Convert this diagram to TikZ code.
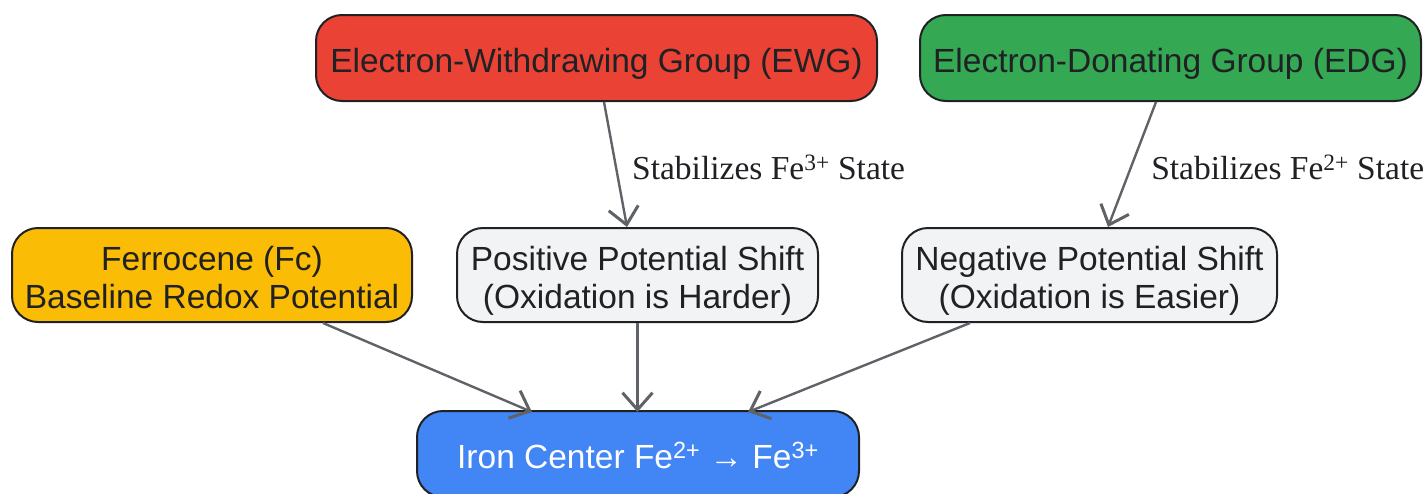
\documentclass[tikz,border=0pt]{standalone}
\usepackage{fontspec}
\setmainfont{Liberation Sans}
\newfontfamily\labelfont{Liberation Serif}
\usetikzlibrary{arrows.meta}

\definecolor{ewgred}{HTML}{EA4335}
\definecolor{edggreen}{HTML}{34A853}
\definecolor{fcyellow}{HTML}{FBBC05}
\definecolor{shiftgray}{HTML}{F1F3F4}
\definecolor{ironblue}{HTML}{4285F4}
\definecolor{inkdark}{HTML}{202124}
\definecolor{linegray}{HTML}{5F6368}

\tikzset{
  box/.style={draw=inkdark, line width=2pt, rounded corners=26pt, align=center,
    text=inkdark, font=\fontsize{33.5}{38}\selectfont, inner sep=0pt,
    text height=35pt, text depth=7pt},
  twoline/.style={text height=73pt, text depth=7pt},
  flow/.style={draw=linegray, line width=2.4pt, -{Straight Barb[length=17pt,width=30pt,line width=3pt]}},
  tag/.style={font=\labelfont\fontsize{33.5}{38}\selectfont, text=inkdark, right, inner sep=0pt}
}

\begin{document}
\begin{tikzpicture}[x=1pt, y=-1pt]
                    \useasboundingbox (0,0) rectangle (1428,493);

                    % Grupos
                    \node [box, fill=ewgred, minimum width=561, minimum height=86] (ewg) at (596.5,58) {Electron-Withdrawing Group (EWG)};
                    \node [box, fill=edggreen, minimum width=501, minimum height=86] (edg) at (1170.5,58) {Electron-Donating Group (EDG)};

                    % Potenciales
                    \node [box, twoline, fill=fcyellow, minimum width=400, minimum height=94] (fc) at (212,275) {Ferrocene (Fc)\\Baseline Redox Potential};
                    \node [box, twoline, fill=shiftgray, minimum width=361, minimum height=94] (pos) at (637.5,275) {Positive Potential Shift\\(Oxidation is Harder)};
                    \node [box, twoline, fill=shiftgray, minimum width=375, minimum height=94] (neg) at (1089.5,275) {Negative Potential Shift\\(Oxidation is Easier)};

                    % Hierro
                    \node [box, fill=ironblue, text=white, minimum width=442, minimum height=86] (iron) at (638,454) {Iron Center Fe\textsuperscript{2+} → Fe\textsuperscript{3+}};

                    % Flechas
                    \draw [flow] ([xshift=7.5]ewg.south) -- ([xshift=-10.5]pos.north) node [tag, pos=0.52, xshift=15] {Stabilizes Fe\textsuperscript{3+} State};
                    \draw [flow] ([xshift=-14.5]edg.south) -- ([xshift=18.5]neg.north) node [tag, pos=0.52, xshift=19] {Stabilizes Fe\textsuperscript{2+} State};
                    \draw [flow] ([xshift=111]fc.south) -- ([xshift=-106,yshift=-2]iron.north);
                    \draw [flow] (pos.south) -- ([yshift=-2]pos.south |- iron.north);
                    \draw [flow] ([xshift=-119.5]neg.south) -- ([xshift=110,yshift=-2]iron.north);
\end{tikzpicture}
\end{document}
